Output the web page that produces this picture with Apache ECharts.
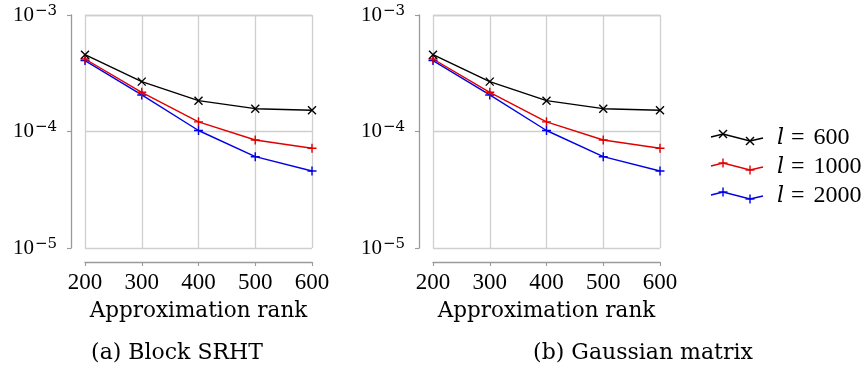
<!DOCTYPE html>
<html>
<head>
<meta charset="utf-8">
<script src="https://cdn.jsdelivr.net/npm/echarts@6/dist/echarts.min.js"></script>
<style>
  html, body { margin: 0; padding: 0; background: #fff; }
  #main { width: 867px; height: 372px; }
</style>
</head>
<body>
<div id="main"></div>
<script>
// approximation ranks
var ranks = [200, 300, 400, 500, 600]
// series names (sketch size l)
var seriesNames = ['600', '1000', '2000']
// (a) Block SRHT
var srht600 = [4.56e-4, 2.68e-4, 1.84e-4, 1.57e-4, 1.52e-4]
var srht1000 = [4.19e-4, 2.17e-4, 1.21e-4, 8.45e-5, 7.18e-5]
var srht2000 = [4.06e-4, 2.06e-4, 1.02e-4, 6.08e-5, 4.58e-5]
// (b) Gaussian matrix
var gauss600 = [4.56e-4, 2.68e-4, 1.84e-4, 1.57e-4, 1.52e-4]
var gauss1000 = [4.19e-4, 2.17e-4, 1.21e-4, 8.45e-5, 7.18e-5]
var gauss2000 = [4.06e-4, 2.06e-4, 1.02e-4, 6.08e-5, 4.58e-5]
var captions = ['(a) Block SRHT', '(b) Gaussian matrix']
var xName = 'Approximation rank'

var NUM_FONT = '"Liberation Serif"'
var TXT_FONT = '"DejaVu Serif"'
var colors = ['#000000', '#e00000', '#0000e6']
var crossSym = 'path://M0,0L10,10M10,0L0,10'
var plusSym = 'path://M5,0L5,10M0,5L10,5'
var symbols = [crossSym, plusSym, plusSym]

function pairs (ys) {
  return ranks.map(function (x, i) { return [x, ys[i]] })
}

function xAxisFor (idx) {
  return {
    gridIndex: idx,
    type: 'value',
    min: 200,
    max: 600,
    interval: 100,
    offset: 14,
    name: xName,
    nameLocation: 'middle',
    nameGap: 38,
    nameTextStyle: {fontFamily: TXT_FONT, fontSize: 21.5, color: '#000'},
    axisLine: {show: true, lineStyle: {color: '#9a9a9a', width: 1.3}},
    axisTick: {show: true, length: 4, lineStyle: {color: '#9a9a9a', width: 1.1}},
    axisLabel: {fontFamily: NUM_FONT, fontSize: 23, color: '#000', margin: 9},
    splitLine: {show: true, lineStyle: {color: '#cfcfcf', width: 1.3}}
  }
}

function yAxisFor (idx) {
  return {
    gridIndex: idx,
    type: 'log',
    logBase: 10,
    min: 1e-5,
    max: 1e-3,
    offset: 14,
    axisLine: {show: true, lineStyle: {color: '#9a9a9a', width: 1.3}},
    axisTick: {show: true, length: 4, lineStyle: {color: '#9a9a9a', width: 1.1}},
    axisLabel: {
      margin: 14,
      formatter: function (v) {
        var e = Math.round(Math.log10(v))
        return '{b|10}{s|\u2212' + (-e) + '}'
      },
      rich: {
        b: {fontFamily: NUM_FONT, fontSize: 21, color: '#000', lineHeight: 21, verticalAlign: 'bottom', padding: [4, 0, 0, 0]},
        s: {fontFamily: TXT_FONT, fontSize: 15, color: '#000', lineHeight: 15, verticalAlign: 'bottom', padding: [0, 0, 7, 1]}
      }
    },
    splitLine: {show: true, lineStyle: {color: '#cfcfcf', width: 1.3}}
  }
}

function lineSeries (name, ys, k, idx) {
  return {
    name: name,
    type: 'line',
    xAxisIndex: idx,
    yAxisIndex: idx,
    data: pairs(ys),
    symbol: symbols[k],
    symbolSize: k === 0 ? 8 : 9,
    showSymbol: true,
    lineStyle: {color: colors[k], width: 1.4},
    itemStyle: {color: colors[k], borderColor: colors[k], borderWidth: 1.4},
    silent: true,
    animation: false,
    z: 10 - k
  }
}

var panels = [[srht600, srht1000, srht2000], [gauss600, gauss1000, gauss2000]]
var series = []
panels.forEach(function (p, idx) {
  p.forEach(function (ys, k) { series.push(lineSeries('l = ' + seriesNames[k], ys, k, idx)) })
})

// legend: zigzag icon with marker + label
var legendGraphics = []
seriesNames.forEach(function (n, k) {
  var cy = 138 + k * 29
  var pts = [[711, cy - 1], [723, cy - 4], [750, cy + 3], [763, cy]]
  legendGraphics.push({
    type: 'polyline',
    shape: {points: pts},
    style: {stroke: colors[k], lineWidth: 1.4, fill: null}
  })
  ;[pts[1], pts[2]].forEach(function (p) {
    var d = k === 0 ? 4 : 4.5
    var segs = k === 0
      ? [[p[0] - d, p[1] - d, p[0] + d, p[1] + d], [p[0] + d, p[1] - d, p[0] - d, p[1] + d]]
      : [[p[0], p[1] - d, p[0], p[1] + d], [p[0] - d, p[1], p[0] + d, p[1]]]
    segs.forEach(function (s) {
      legendGraphics.push({
        type: 'line',
        shape: {x1: s[0], y1: s[1], x2: s[2], y2: s[3]},
        style: {stroke: colors[k], lineWidth: 1.4}
      })
    })
  })
  legendGraphics.push({
    type: 'text',
    x: 777,
    y: cy,
    style: {
      text: '{i|l}{e|=}{d|' + n + '}',
      verticalAlign: 'middle',
      rich: {
        i: {fontFamily: TXT_FONT, fontStyle: 'italic', fontSize: 22, fill: '#000'},
        e: {fontFamily: NUM_FONT, fontSize: 24, fill: '#000', padding: [0, 9, 0, 7]},
        d: {fontFamily: NUM_FONT, fontSize: 24, fill: '#000'}
      }
    }
  })
})

var option = {
  animation: false,
  backgroundColor: '#fff',
  title: [
    {text: captions[0], left: 172, top: 337, textAlign: 'center',
      textStyle: {fontFamily: TXT_FONT, fontSize: 22, fontWeight: 'normal', color: '#000'}},
    {text: captions[1], left: 638, top: 337, textAlign: 'center',
      textStyle: {fontFamily: TXT_FONT, fontSize: 22, fontWeight: 'normal', color: '#000'}}
  ],
  grid: [
    {left: 85, top: 15, width: 227, height: 233},
    {left: 433, top: 15, width: 227, height: 233}
  ],
  xAxis: [xAxisFor(0), xAxisFor(1)],
  yAxis: [yAxisFor(0), yAxisFor(1)],
  series: series,
  graphic: legendGraphics
}

var myChart = echarts.init(document.getElementById('main'), null, {renderer: 'canvas'})
myChart.setOption(option)
</script>
</body>
</html>
